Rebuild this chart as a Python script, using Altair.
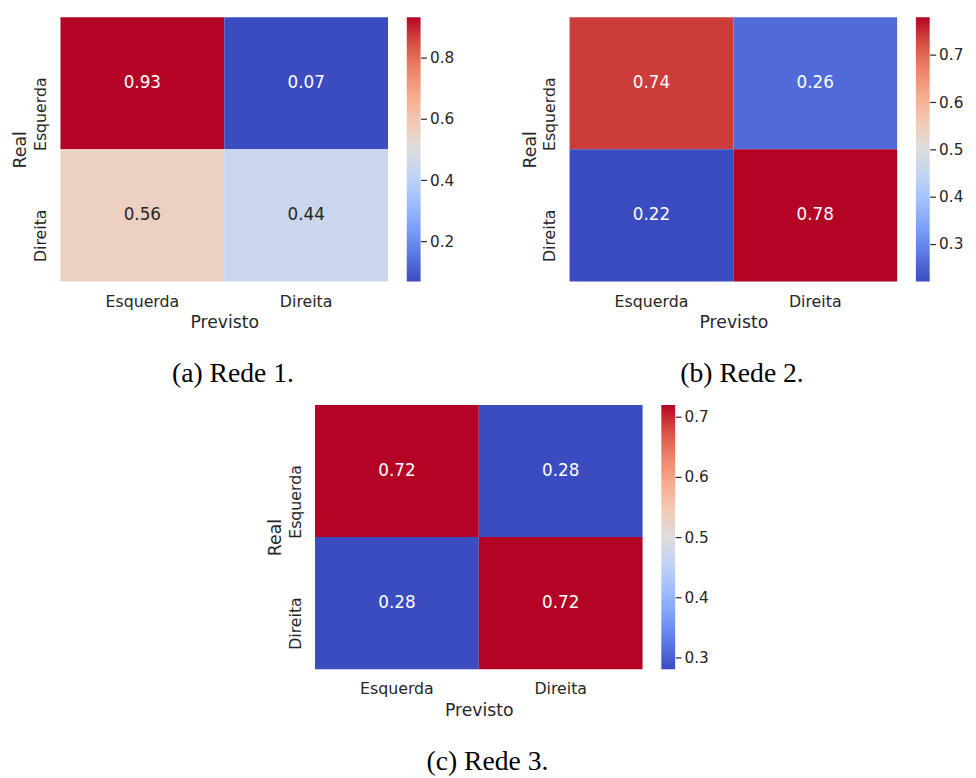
import altair as alt
import numpy as np
import pandas as pd

labels = ["Esquerda", "Direita"]
rede1 = [[0.93, 0.07], [0.56, 0.44]]
rede2 = [[0.74, 0.26], [0.22, 0.78]]
rede3 = [[0.72, 0.28], [0.28, 0.72]]
ticks1 = [0.2, 0.4, 0.6, 0.8]
ticks2 = [0.3, 0.4, 0.5, 0.6, 0.7]
ticks3 = [0.3, 0.4, 0.5, 0.6, 0.7]
captions = ["(a) Rede 1.", "(b) Rede 2.", "(c) Rede 3."]

coolwarm = ['#3b4cc0', '#5977e3', '#7b9ff9', '#9ebeff', '#c0d4f5', '#dddcdc',
            '#f2cbb7', '#f7ac8e', '#ee8468', '#d65244', '#b40426']

DARK = "#262626"
W, H = 332, 268


def panel(mat, ticks, caption, cap_offset=30):
    rows = []
    for i, r in enumerate(labels):
        for j, p in enumerate(labels):
            rows.append({"real": r, "pred": p, "v": mat[i][j]})
    df = pd.DataFrame(rows)
    vmin, vmax = float(df.v.min()), float(df.v.max())
    dom = list(np.linspace(vmin, vmax, len(coolwarm)))
    cscale = alt.Scale(domain=dom, range=coolwarm, interpolate="rgb")
    x = alt.X("pred:N", sort=labels,
              axis=alt.Axis(labelAngle=0, title="Previsto", ticks=False, domain=False,
                            labelPadding=12, titlePadding=5))
    y = alt.Y("real:N", sort=labels,
              axis=alt.Axis(labelAngle=-90, labelAlign="right", labelBaseline="bottom",
                            labelOffset=-6,
                            title="Real", ticks=False, domain=False, labelPadding=12,
                            titlePadding=3))
    base = alt.Chart(df)
    rect = base.mark_rect().encode(x=x, y=y, color=alt.Color("v:Q", scale=cscale, legend=None))
    txt = base.mark_text(fontSize=17, font="DejaVu Sans").encode(
        x=x, y=y,
        text=alt.Text("v:Q", format=".2f"),
        color=alt.condition(
            f"abs((datum.v - {vmin}) / ({vmax} - {vmin}) - 0.5) > 0.25",
            alt.value("white"), alt.value(DARK)),
    )
    heat = alt.layer(rect, txt).properties(width=W, height=H)

    cb_df = pd.DataFrame({"lo": [vmin], "hi": [vmax]})
    grad = {
        "gradient": "linear", "x1": 0, "x2": 0, "y1": 1, "y2": 0,
        "stops": [{"offset": k / (len(coolwarm) - 1), "color": c} for k, c in enumerate(coolwarm)],
    }
    cbar = alt.Chart(cb_df).mark_rect(fill=grad).encode(
        y=alt.Y("lo:Q", scale=alt.Scale(domain=[vmin, vmax], nice=False, zero=False),
                axis=alt.Axis(orient="right", values=ticks, format=".1f", tickSize=6,
                              tickColor=DARK, tickWidth=1.2, domain=False, grid=False,
                              title=None, labelFontSize=15.5, labelPadding=3)),
        y2="hi:Q",
    ).properties(width=14, height=H)

    return alt.hconcat(heat, cbar, spacing=19).properties(
        title=alt.TitleParams(caption, orient="bottom", anchor="middle",
                              font="Liberation Serif", fontSize=28, fontWeight="normal",
                              color="black", offset=cap_offset)
    ).resolve_scale(color="independent", y="independent", x="independent")


p1 = panel(rede1, ticks1, captions[0], 29)
p2 = panel(rede2, ticks2, captions[1], 29)
p3 = panel(rede3, ticks3, captions[2], 30)

top = alt.hconcat(p1, p2, spacing=68).resolve_scale(color="independent", y="independent", x="independent")
chart = alt.vconcat(top, p3, spacing=17, center=True).resolve_scale(
    color="independent", y="independent", x="independent"
).configure(font="DejaVu Sans", background="white").configure_view(stroke=None).configure_axis(
    labelColor=DARK, titleColor=DARK, labelFontSize=16, titleFontSize=17.5,
    titleFontWeight="normal", labelFont="DejaVu Sans", titleFont="DejaVu Sans"
).properties(padding={"left": 4, "top": 4, "right": 5, "bottom": 2})

chart.save("out.html", embed_options={"renderer": "svg", "actions": False})
